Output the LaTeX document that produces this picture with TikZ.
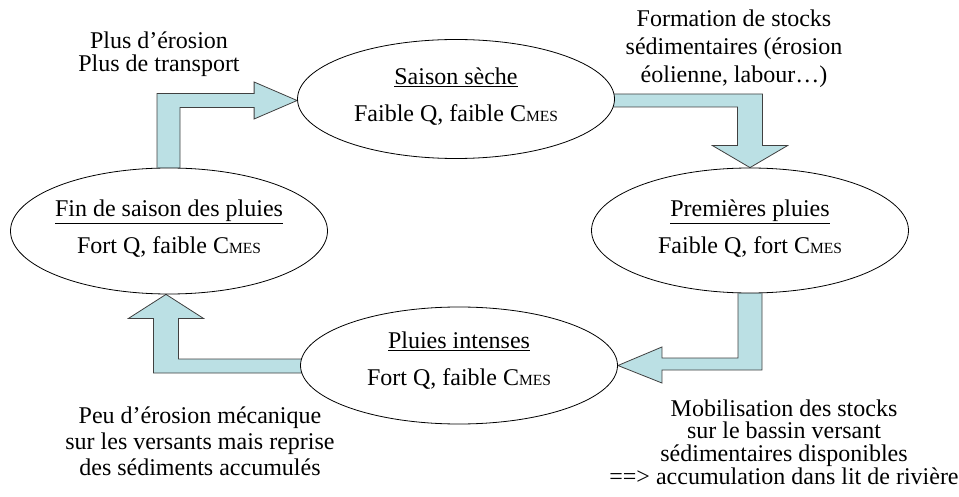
\documentclass[tikz,border=0pt]{standalone}
\usepackage{fontspec}
\setmainfont{Liberation Serif}
\usetikzlibrary{shapes.geometric,calc,backgrounds}
\definecolor{fleche}{RGB}{187,224,228}
\newcommand{\Cmes}{C{\fontsize{15.5}{15.5}\selectfont MES}}
\begin{document}
\begin{tikzpicture}[x=1pt, y=-1pt, font=\fontsize{24}{27}\selectfont,
    saison/.style={draw, ellipse, line width=0.8pt, fill=white, minimum width=317pt, inner sep=0pt},
    etiquette/.style={align=center, yshift=2pt},
    bloc/.style={fill=fleche, draw=black!75, line width=0.8pt, line join=miter},
    texte/.style={align=center, inner sep=0pt}]
    \useasboundingbox (0,0) rectangle (959,497);
    \node[saison, minimum height=119pt, label={[etiquette]center:{\underline{Saison sèche}\\[10pt]Faible Q, faible \Cmes}}] (seche) at (456,99) {};
    \node[saison, minimum height=125pt, label={[etiquette]center:{\underline{Premières pluies}\\[10pt]Faible Q, fort \Cmes}}] (premieres) at (750,230.5) {};
    \node[saison, minimum height=117pt, label={[etiquette, yshift=3pt]center:{\underline{Pluies intenses}\\[10pt]Fort Q, faible \Cmes}}] (intenses) at (459,365.5) {};
    \node[saison, minimum height=126pt, label={[etiquette]center:{\underline{Fin de saison des pluies}\\[10pt]Fort Q, faible \Cmes}}] (finsaison) at (169,231) {};
    \begin{pgfonlayer}{background}
        \draw[bloc] ($(seche.west)+(0,1.5)$) -- ++(-43,18.5) -- ++(0,-11.5) -| ($(finsaison.north)+(11,6)$) -- ++(-23,0) |- ($(seche.west)+(-43,-5.5)$) -- ++(0,-11.5) -- cycle;
        \draw[bloc] (premieres.north) -- ++(-37.5,-22) -- ++(25,0) |- ($(seche.east)+(-8,8)$) -- ++(0,-13) -| ($(premieres.north)+(12.5,-22)$) -- ++(25,0) -- cycle;
        \draw[bloc] (intenses.east) -- ++(44,-18.5) -- ++(0,11) -| ($(premieres.south)+(-12,-3)$) -- ++(24,0) |- ($(intenses.east)+(44,4.5)$) -- ++(0,13) -- cycle;
        \draw[bloc] ($(finsaison.south)+(-3,0)$) -- ++(37.5,24) -- ++(-25,0) |- ($(intenses.west)+(8,-6.5)$) -- ++(0,14) -| ($(finsaison.south)+(-15.5,24)$) -- ++(-25,0) -- cycle;
    \end{pgfonlayer}
    \node[texte, font=\fontsize{24}{23.5}\selectfont] (plus) at (159,54) {Plus d’érosion\\Plus de transport};
    \node[texte, font=\fontsize{24}{28}\selectfont] (formation) at (734,49) {Formation de stocks\\sédimentaires (érosion\\éolienne, labour…)};
    \node[texte, font=\fontsize{24}{26}\selectfont] (peu) at (200,441) {Peu d’érosion mécanique\\sur les versants mais reprise\\des sédiments accumulés};
    \node[texte, font=\fontsize{24}{22.8}\selectfont] (mobilisation) at (784,442) {Mobilisation des stocks\\sur le bassin versant\\sédimentaires disponibles\\==> accumulation dans lit de rivière};
\end{tikzpicture}
\end{document}
